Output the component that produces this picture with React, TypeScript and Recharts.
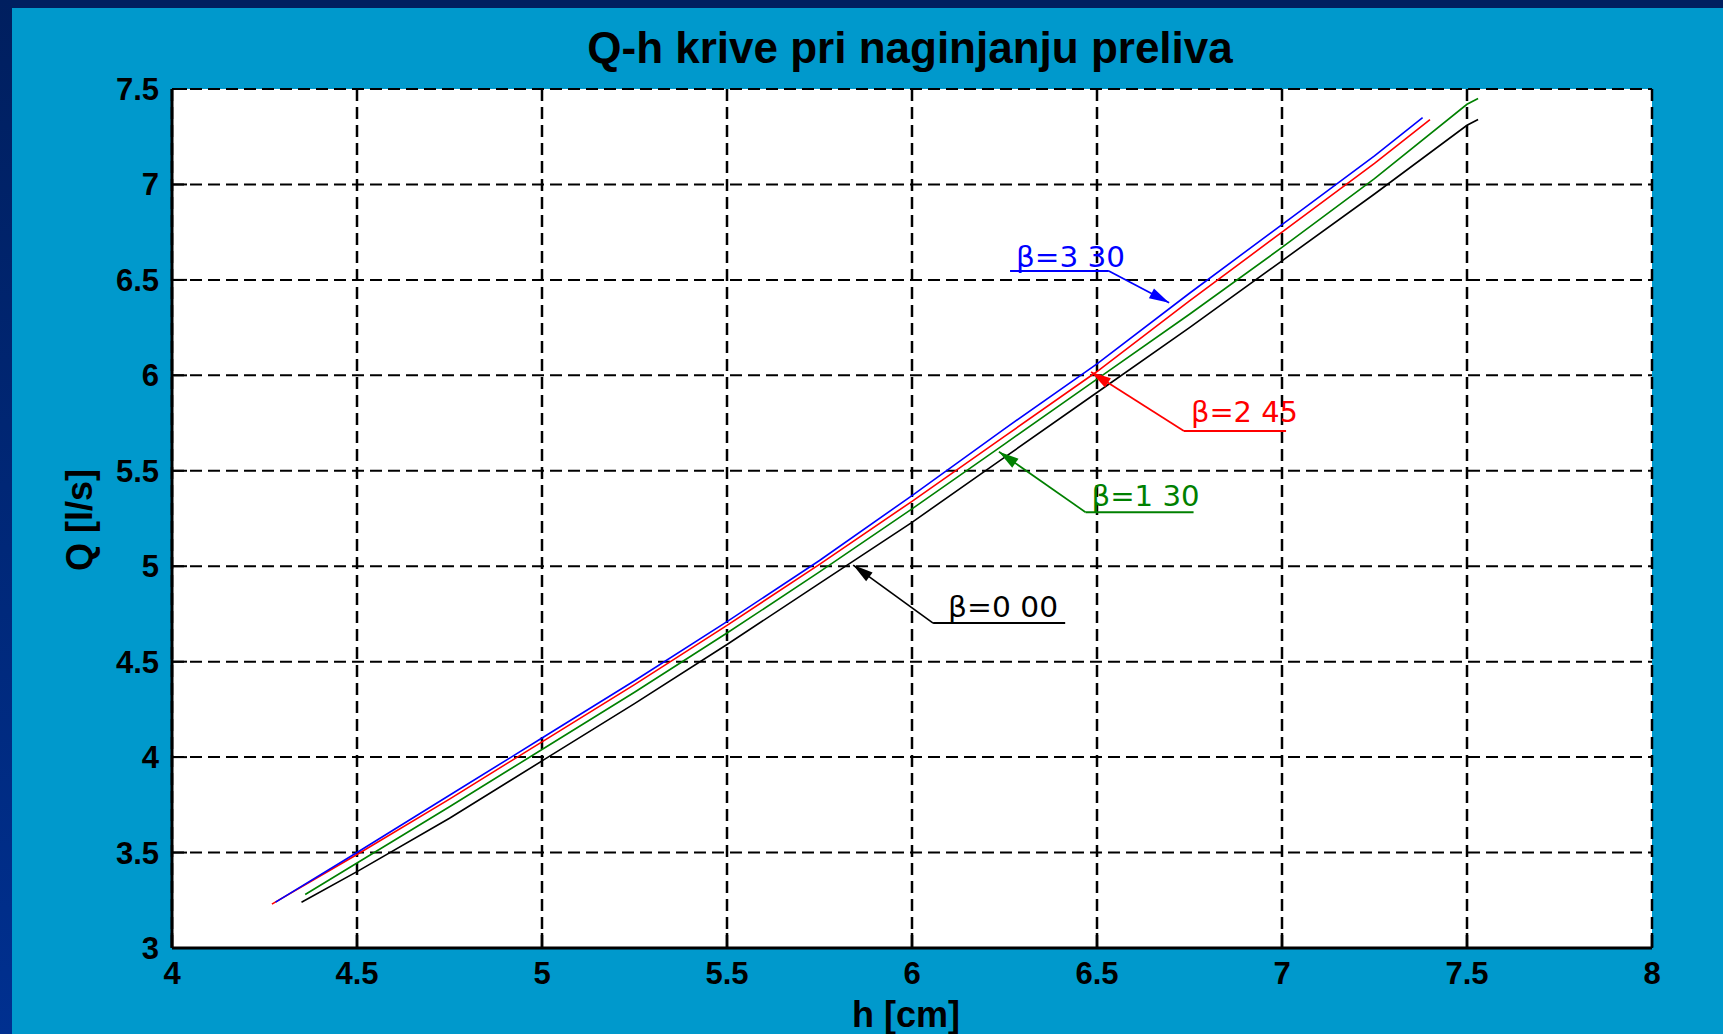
import React from 'react';
import { LineChart, Line, XAxis, YAxis, CartesianGrid, ReferenceLine } from 'recharts';

// ---- data (h [cm] -> Q [l/s]) ----
const hB330 = [4.28, 4.5, 4.75, 5.0, 5.25, 5.5, 5.75, 6.0, 6.25, 6.5, 6.75, 7.0, 7.25, 7.38];
const qB330 = [3.24, 3.5, 3.8, 4.1, 4.4, 4.71, 5.03, 5.37, 5.72, 6.06, 6.43, 6.79, 7.15, 7.35];

const hB245 = [4.27, 4.5, 4.75, 5.0, 5.25, 5.5, 5.75, 6.0, 6.25, 6.5, 6.75, 7.0, 7.25, 7.4];
const qB245 = [3.23, 3.49, 3.78, 4.08, 4.38, 4.69, 5.01, 5.34, 5.68, 6.02, 6.39, 6.75, 7.11, 7.34];

const hB130 = [4.36, 4.5, 4.75, 5.0, 5.25, 5.5, 5.75, 6.0, 6.25, 6.5, 6.75, 7.0, 7.25, 7.5, 7.53];
const qB130 = [3.28, 3.445, 3.74, 4.04, 4.34, 4.65, 4.97, 5.3, 5.64, 5.98, 6.32, 6.67, 7.03, 7.42, 7.45];

const hB000 = [4.35, 4.5, 4.75, 5.0, 5.25, 5.5, 5.75, 6.0, 6.25, 6.5, 6.75, 7.0, 7.25, 7.5, 7.53];
const qB000 = [3.24, 3.4, 3.68, 3.98, 4.28, 4.59, 4.91, 5.23, 5.57, 5.91, 6.25, 6.6, 6.95, 7.31, 7.34];

const xTicks = [4, 4.5, 5, 5.5, 6, 6.5, 7, 7.5, 8];
const yTicks = [3, 3.5, 4, 4.5, 5, 5.5, 6, 6.5, 7, 7.5];

// annotations
const annLabels = ['β=3 30', 'β=2 45', 'β=1 30', 'β=0 00'];
const annColors = ['#0000FF', '#FF0000', '#008000', '#000000'];
const annTipH = [6.695, 6.484, 6.235, 5.841];
const annTipQ = [6.38, 6.017, 5.6, 5.006];
const annElbowH = [6.532, 6.735, 6.469, 6.057];
const annElbowQ = [6.546, 5.708, 5.283, 4.702];
const annUnderStartH = [6.265, 6.735, 6.469, 6.057];
const annUnderEndH = [6.532, 7.011, 6.761, 6.414];

const toPts = (hs: number[], qs: number[]) => hs.map((h, i) => ({ h, Q: qs[i] }));

const W = 1723;
const H = 1034;

const textDx = [6, 7, 6, 15];
const textDy = [4, 9, 6, 6];
const textLen = [109, 107, 108, 110];

const arrowShape = (color: string) => (props: any) => {
  const { x1, y1, x2, y2 } = props;
  const ang = Math.atan2(y1 - y2, x1 - x2);
  const L = 20;
  const Wd = 5.5;
  const bx = x1 - L * Math.cos(ang);
  const by = y1 - L * Math.sin(ang);
  const px = -Math.sin(ang) * Wd;
  const py = Math.cos(ang) * Wd;
  return (
    <g>
      <line x1={x1} y1={y1} x2={x2} y2={y2} stroke={color} strokeWidth={1.7} />
      <polygon points={`${x1},${y1} ${bx + px},${by + py} ${bx - px},${by - py}`} fill={color} />
    </g>
  );
};

const underlineShape = (i: number) => (props: any) => {
  const { x1, y1, x2, y2 } = props;
  const left = Math.min(x1, x2);
  return (
    <g>
      <line x1={x1} y1={y1} x2={x2} y2={y2} stroke={annColors[i]} strokeWidth={2} />
      <text
        x={left + textDx[i]}
        y={y1 - textDy[i]}
        fill={annColors[i]}
        fontSize={28}
        fontFamily="'DejaVu Sans', sans-serif"
        textLength={textLen[i]}
        lengthAdjust="spacingAndGlyphs"
      >
        {annLabels[i]}
      </text>
    </g>
  );
};

const tickStyle = { fill: '#000', fontSize: 31, fontWeight: 700, fontFamily: "'Liberation Sans', Arial, sans-serif" };

export default function App() {
  const d000 = toPts(hB000, qB000);
  const d130 = toPts(hB130, qB130);
  const d245 = toPts(hB245, qB245);
  const d330 = toPts(hB330, qB330);

  return (
    <div style={{ position: 'absolute', left: 0, top: 0, width: W, height: H, background: '#0099CC', overflow: 'hidden' }}>
      <div style={{ position: 'absolute', left: 0, top: 0, width: W, height: 8, background: '#001F5F' }} />
      <div
        style={{
          position: 'absolute',
          left: 0,
          top: 0,
          width: 12,
          height: H,
          background: 'linear-gradient(to bottom, #001F5F, #003090)',
        }}
      />
      <div style={{ position: 'absolute', left: 0, top: 0 }}>
        <LineChart width={W} height={H} margin={{ top: 89, right: 71, bottom: 0, left: 0 }}>
          <CartesianGrid
            horizontal={true}
            vertical={false}
            fill="#ffffff"
            fillOpacity={1}
            stroke="#000"
            strokeWidth={2}
            strokeDasharray="12 6"
          />
          <CartesianGrid horizontal={false} vertical={true} stroke="#000" strokeWidth={2.5} strokeDasharray="12 6" />
          <XAxis
            dataKey="h"
            type="number"
            domain={[4, 8]}
            ticks={xTicks}
            interval={0}
            height={86}
            tickSize={-15}
            tickMargin={29}
            axisLine={{ stroke: '#000', strokeWidth: 3 }}
            tickLine={{ stroke: '#000', strokeWidth: 2.5 }}
            tick={tickStyle}
            allowDataOverflow
          />
          <XAxis
            xAxisId="top"
            orientation="top"
            dataKey="h"
            type="number"
            domain={[4, 8]}
            ticks={xTicks}
            interval={0}
            height={0}
            tickSize={-15}
            tickFormatter={() => ''}
            axisLine={{ stroke: '#000', strokeWidth: 3 }}
            tickLine={{ stroke: '#000', strokeWidth: 2.5 }}
            allowDataOverflow
          />
          <YAxis
            type="number"
            domain={[3, 7.5]}
            ticks={yTicks}
            interval={0}
            width={172}
            tickSize={-15}
            tickMargin={28}
            axisLine={{ stroke: '#000', strokeWidth: 3 }}
            tickLine={{ stroke: '#000', strokeWidth: 2 }}
            tick={tickStyle}
            allowDataOverflow
          />
          <YAxis
            yAxisId="right"
            orientation="right"
            type="number"
            domain={[3, 7.5]}
            ticks={yTicks}
            interval={0}
            width={0}
            tickSize={-15}
            tickFormatter={() => ''}
            axisLine={{ stroke: '#000', strokeWidth: 3 }}
            tickLine={{ stroke: '#000', strokeWidth: 2 }}
            allowDataOverflow
          />
          <Line data={d000} dataKey="Q" type="linear" stroke="#000000" strokeWidth={1.6} dot={false} isAnimationActive={false} />
          <Line data={d130} dataKey="Q" type="linear" stroke="#008000" strokeWidth={1.6} dot={false} isAnimationActive={false} />
          <Line data={d245} dataKey="Q" type="linear" stroke="#FF0000" strokeWidth={1.6} dot={false} isAnimationActive={false} />
          <Line data={d330} dataKey="Q" type="linear" stroke="#0000FF" strokeWidth={1.6} dot={false} isAnimationActive={false} />
          {annLabels.map((_, i) => (
            <ReferenceLine
              key={`arr${i}`}
              segment={[
                { x: annTipH[i], y: annTipQ[i] },
                { x: annElbowH[i], y: annElbowQ[i] },
              ]}
              shape={arrowShape(annColors[i])}
              ifOverflow="visible"
            />
          ))}
          {annLabels.map((_, i) => (
            <ReferenceLine
              key={`ul${i}`}
              segment={[
                { x: annUnderStartH[i], y: annElbowQ[i] },
                { x: annUnderEndH[i], y: annElbowQ[i] },
              ]}
              shape={underlineShape(i)}
              ifOverflow="visible"
            />
          ))}
        </LineChart>
      </div>
      <svg
        width={W}
        height={H}
        style={{ position: 'absolute', left: 0, top: 0, pointerEvents: 'none' }}
        fontFamily="'Liberation Sans', Arial, sans-serif"
        fontWeight={700}
      >
        <text x={910} y={63} textAnchor="middle" fontSize={44} fill="#000">
          Q-h krive pri naginjanju preliva
        </text>
        <text x={906} y={1027} textAnchor="middle" fontSize={36} fill="#000">
          h [cm]
        </text>
        <text x={92} y={520} textAnchor="middle" fontSize={36} fill="#000" transform="rotate(-90 92 520)">
          Q [l/s]
        </text>
      </svg>
    </div>
  );
}
